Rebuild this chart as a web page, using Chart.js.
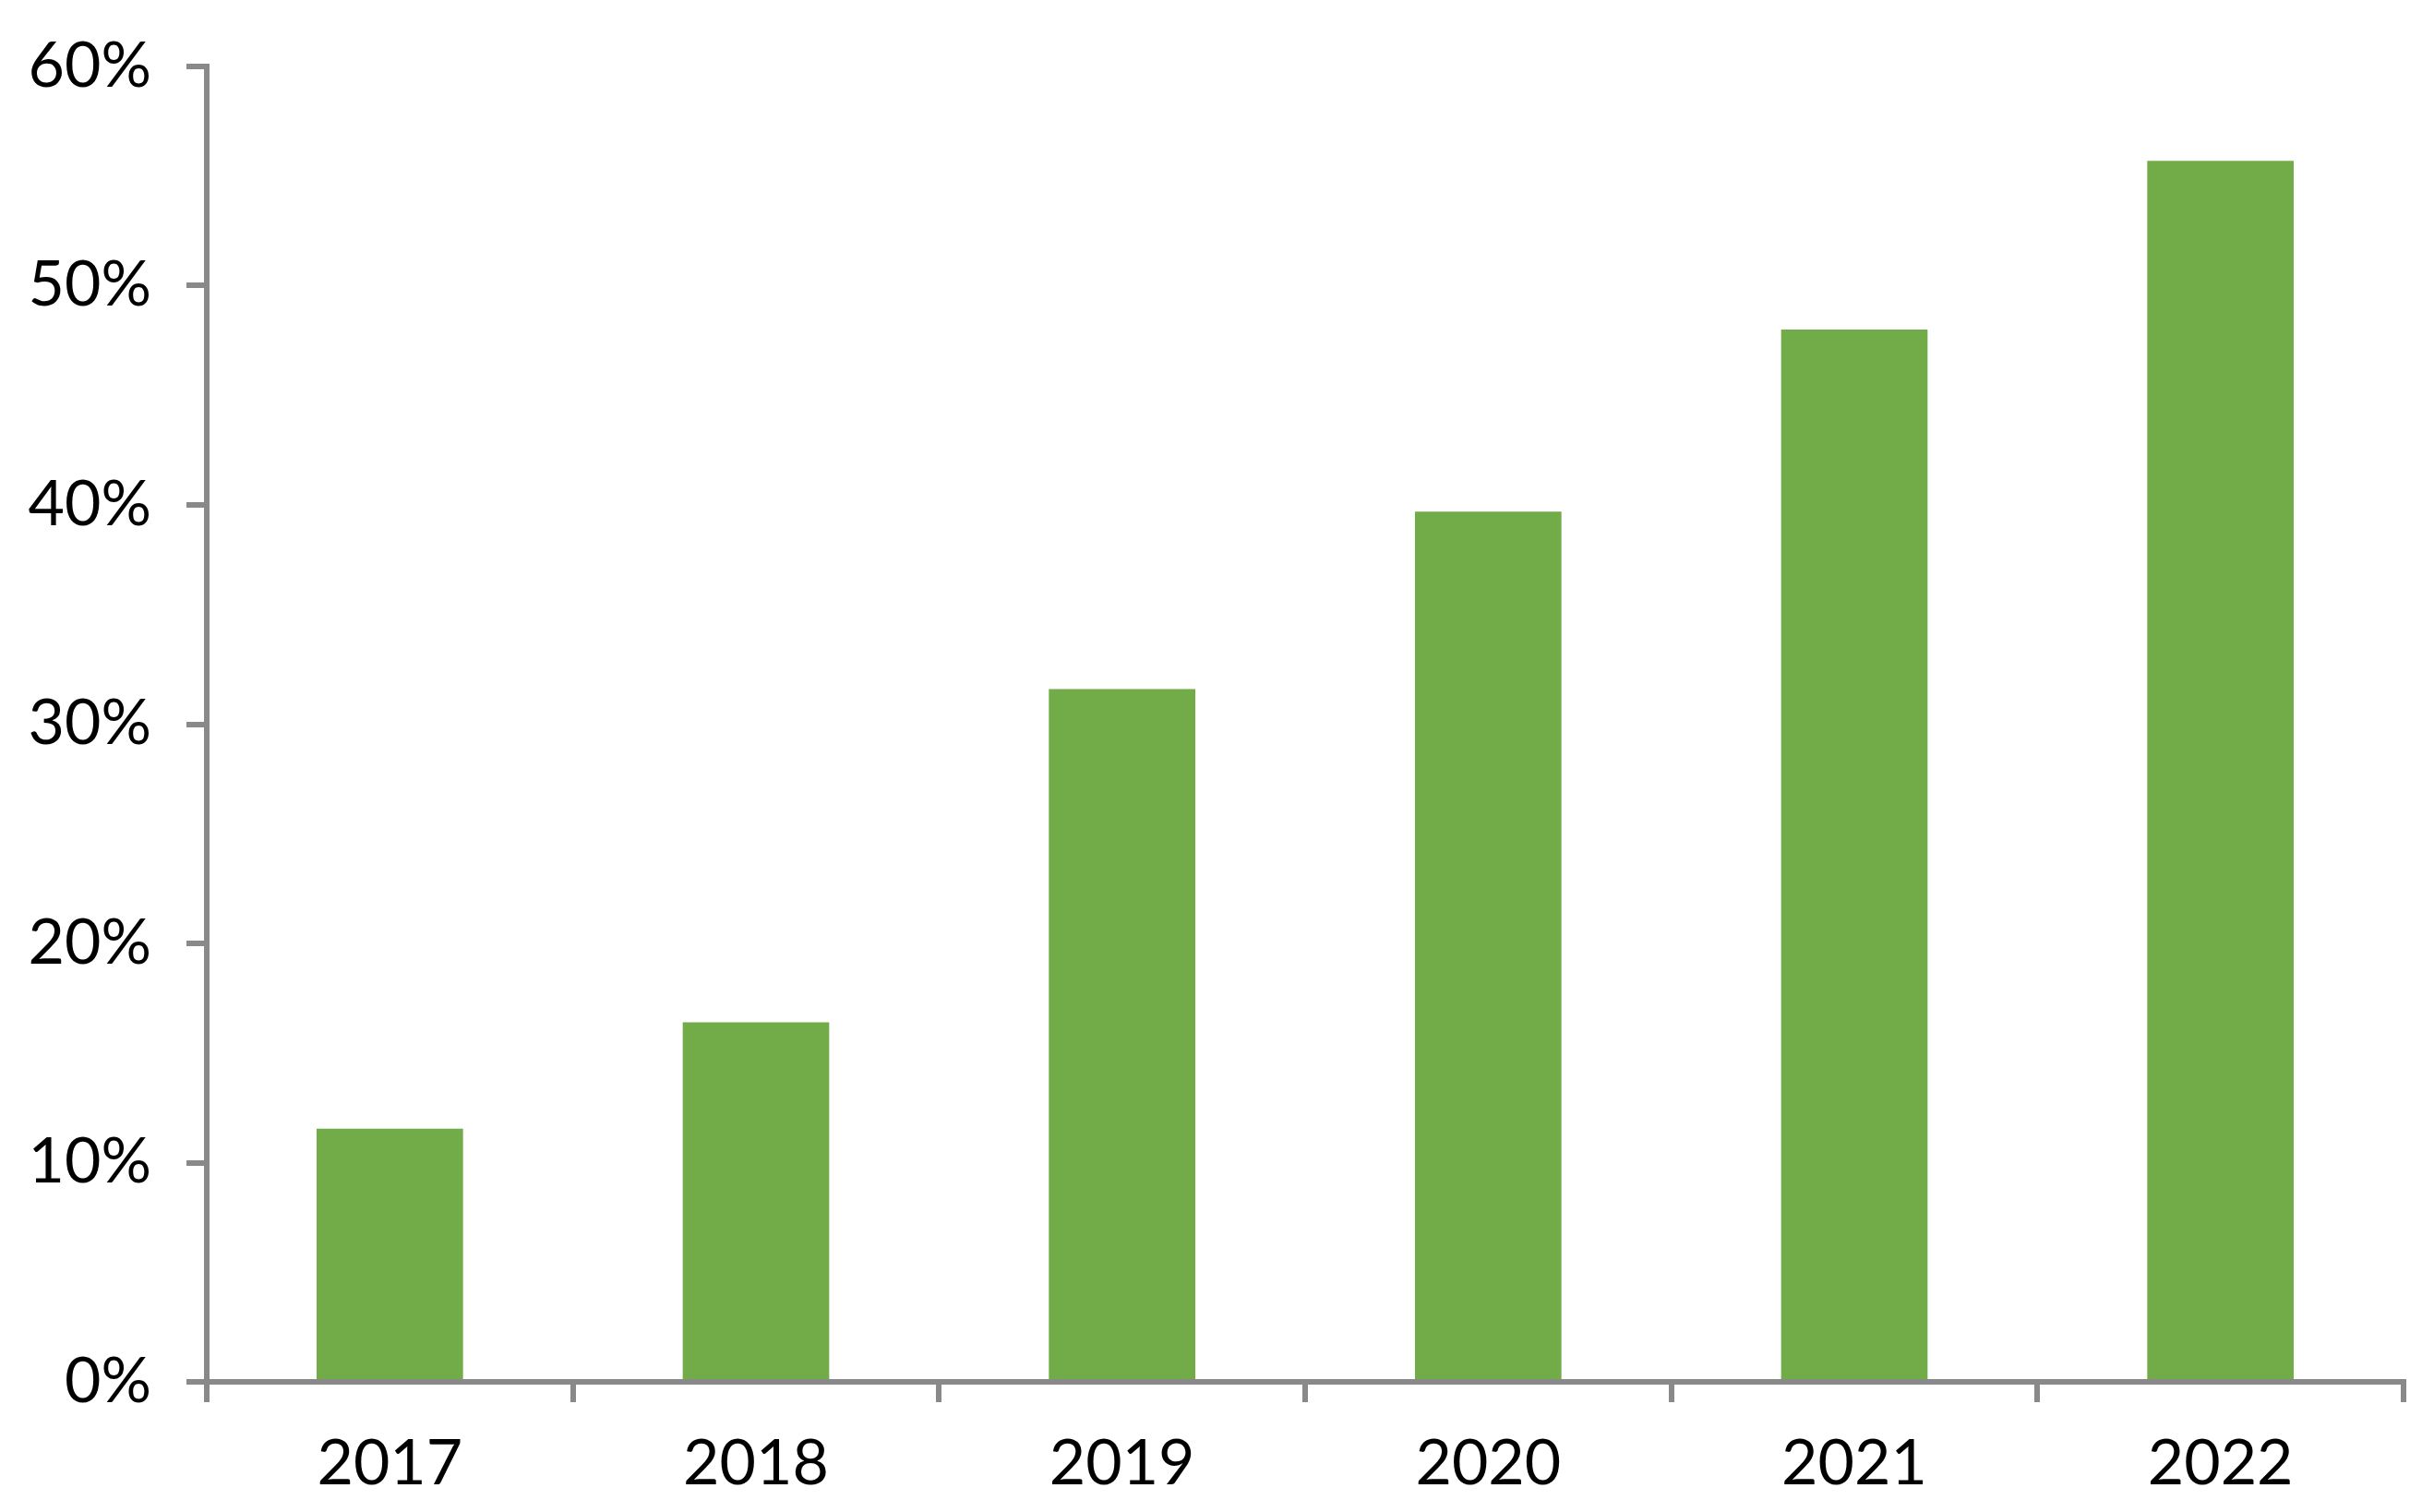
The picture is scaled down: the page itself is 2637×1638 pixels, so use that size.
<!DOCTYPE html>
<html>
<head>
<meta charset="utf-8">
<script src="https://cdn.jsdelivr.net/npm/chart.js@4.4.0/dist/chart.umd.min.js"></script>
<style>
  html, body { margin: 0; padding: 0; background: #fff; }
  canvas { display: block; }
</style>
</head>
<body>
<canvas id="chart" width="2637" height="1638"></canvas>
<script>
// values
const years = ["2017", "2018", "2019", "2020", "2021", "2022"];
const shares = [11.55, 16.4, 31.6, 39.7, 48.0, 55.7];
const yTicks = [0, 10, 20, 30, 40, 50, 60];

const axisGrey = "#898989";
const barGreen = "#71AC48";

const ctx = document.getElementById("chart").getContext("2d");
new Chart(ctx, {
  type: "bar",
  data: {
    labels: years,
    datasets: [{
      data: shares,
      backgroundColor: barGreen,
      borderWidth: 0,
      categoryPercentage: 1,
      barPercentage: 0.4
    }]
  },
  options: {
    responsive: false,
    animation: false,
    layout: { padding: { top: 72, right: 33, left: 0, bottom: 0 } },
    plugins: { legend: { display: false }, tooltip: { enabled: false } },
    scales: {
      x: {
        grid: {
          offset: true,
          drawOnChartArea: false,
          drawTicks: true,
          tickLength: 22,
          color: axisGrey,
          lineWidth: 6
        },
        border: { display: true, color: axisGrey, width: 6 },
        ticks: {
          color: "#000",
          font: { family: "Lato", size: 68 },
          padding: 26,
          maxRotation: 0
        },
        afterFit: (scale) => {
          scale.height = 141;
          scale.paddingLeft = 0;
          scale.paddingRight = 0;
        }
      },
      y: {
        min: yTicks[0],
        max: yTicks[yTicks.length - 1],
        afterBuildTicks: (scale) => { scale.ticks = yTicks.map(v => ({ value: v })); },
        grid: {
          drawOnChartArea: false,
          drawTicks: true,
          tickLength: 22,
          color: axisGrey,
          lineWidth: 6
        },
        border: { display: true, color: axisGrey, width: 6 },
        ticks: {
          color: "#000",
          font: { family: "Lato", size: 68 },
          padding: 38,
          callback: (v) => v + "%"
        },
        afterFit: (scale) => {
          scale.width = 224;
          scale.paddingTop = 0;
          scale.paddingBottom = 0;
        }
      }
    }
  }
});
</script>
</body>
</html>
